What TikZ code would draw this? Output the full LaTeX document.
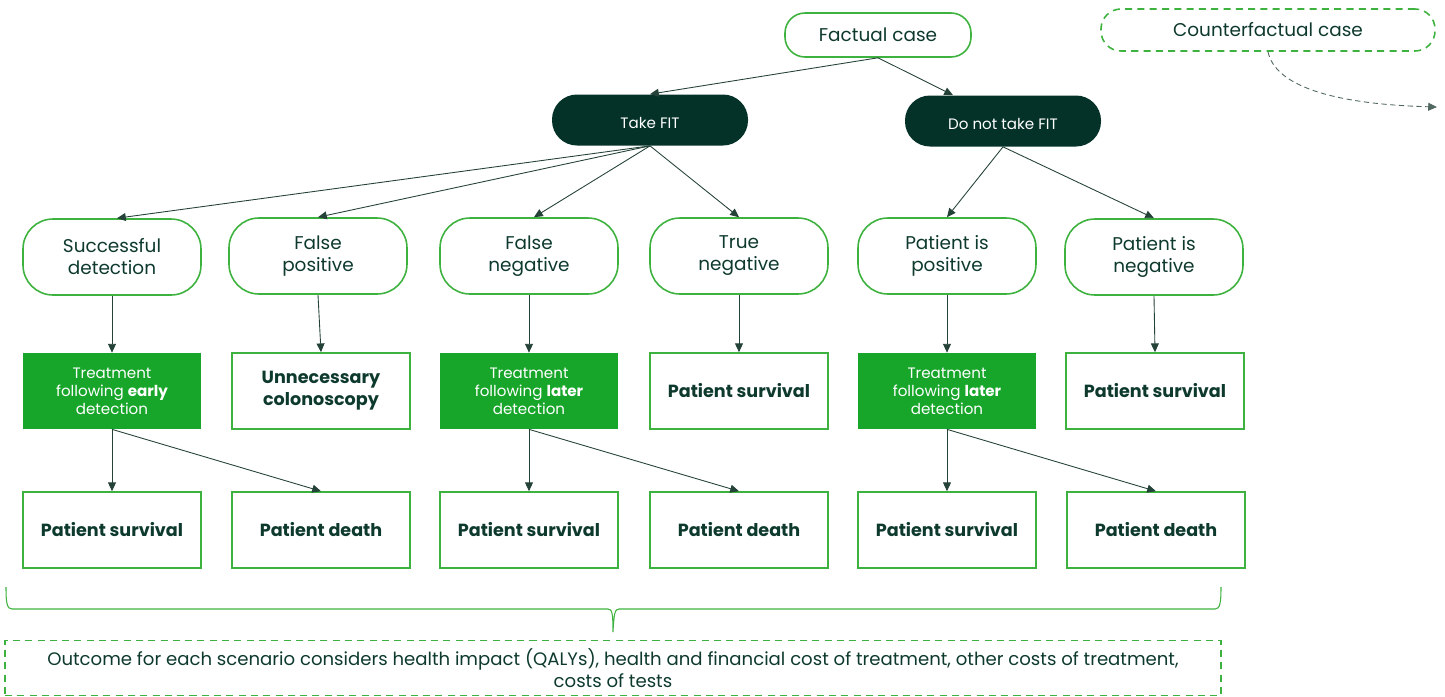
\documentclass[tikz,border=0pt]{standalone}
\usepackage{fontspec}
\setmainfont{Poppins}
\usepackage{xcolor}
\definecolor{leaf-line}{RGB}{62,178,62}
\definecolor{leaf-fill}{RGB}{24,166,42}
\definecolor{pine-dark}{RGB}{5,50,40}
\definecolor{pine-text}{RGB}{14,58,46}
\definecolor{arrow-ink}{RGB}{36,66,56}
\usetikzlibrary{arrows.meta,positioning}

\begin{document}
\begin{tikzpicture}[
    x=0.02cm, y=-0.02cm,
    every node/.style={inner sep=0pt, text=pine-text, align=center},
    base/.style={font=\fontsize{10.5}{12.5}\selectfont},
    small/.style={font=\fontsize{8.6}{10.2}\selectfont},
    casebox/.style={base, draw=leaf-line, line width=0.9pt, fill=white,
        minimum width=186*0.02cm, minimum height=44*0.02cm, rounded corners=20*0.02cm},
    choice/.style={small, fill=pine-dark, text=white, text height=9.4pt, text depth=0pt,
        minimum width=196*0.02cm, minimum height=51*0.02cm, rounded corners=25*0.02cm},
    branch/.style={base, draw=leaf-line, line width=0.9pt, fill=white,
        minimum width=178*0.02cm, minimum height=76*0.02cm, rounded corners=30*0.02cm},
    treat/.style={small, fill=leaf-fill, text=white,
        minimum width=178*0.02cm, minimum height=76*0.02cm},
    endbox/.style={font=\fontsize{10}{12.5}\selectfont\bfseries, draw=leaf-line, line width=0.9pt,
        fill=white, minimum width=178*0.02cm, minimum height=76*0.02cm},
    link/.style={draw=arrow-ink, line width=0.5pt, -{Triangle[length=5pt,width=4.5pt]}}
]
\useasboundingbox (0,0) rectangle (1445,697);

% Top level
\node[casebox] (fact) at (878,35) {Factual case};
\node[casebox, dashed, dash pattern=on 4pt off 3pt, minimum width=334*0.02cm, minimum height=42*0.02cm]
    (counter) at (1268,30) {Counterfactual case};
\coordinate (counterend) at (1437,107);

% Test choice
\node[choice] (fit) at (650,120) {Take FIT};
\node[choice] (nofit) at (1003,121) {Do not take FIT};

% Test results
\node[branch] (success) at (112,257) {Successful\\detection};
\node[branch] (falsepos) at (318,256) {False\\positive};
\node[branch] (falseneg) at (529,256) {False\\negative};
\node[branch] (trueneg) at (739,256) {True\\negative};
\node[branch] (ispos) at (947,256) {Patient is\\positive};
\node[branch] (isneg) at (1154,257) {Patient is\\negative};

% Follow-up
\node[treat] (early) at (112,391) {Treatment\\following \textbf{early}\\detection};
\node[endbox] (colono) at (321,391) {Unnecessary\\colonoscopy};
\node[treat] (later) at (529,391) {Treatment\\following \textbf{later}\\detection};
\node[endbox] (survA) at (739,391) {Patient survival};
\node[treat] (laterB) at (947,391) {Treatment\\following \textbf{later}\\detection};
\node[endbox] (survB) at (1155,391) {Patient survival};

% Final states
\node[endbox] (earlysurv) at (112,530) {Patient survival};
\node[endbox] (earlydeath) at (321,530) {Patient death};
\node[endbox] (latersurv) at (529,530) {Patient survival};
\node[endbox] (laterdeath) at (739,530) {Patient death};
\node[endbox] (bsurv) at (947,530) {Patient survival};
\node[endbox] (bdeath) at (1156,530) {Patient death};

% Outcome note
\node[draw=leaf-line, line width=0.9pt, dashed, dash pattern=on 4pt off 3pt,
    font=\fontsize{10.3}{12.5}\selectfont,
    minimum width=1216*0.02cm, minimum height=55*0.02cm] (outcome) at (613,668)
    {Outcome for each scenario considers health impact (QALYs), health and financial cost of treatment, other costs of treatment,\\costs of tests};

% Connectors
\draw[link] (fact.south) -- (fit.north);
\draw[link] (fact.south) -- ([xshift=-1cm]nofit.north);
\draw[link, draw=arrow-ink!80, dashed, dash pattern=on 3pt off 2pt] (counter.south)
    .. controls (1275,85) and (1330,104) .. (counterend);

\draw[link] (fit.south) -- ([xshift=0.1cm]success.north);
\draw[link] (fit.south) -- (falsepos.north);
\draw[link] (fit.south) -- ([xshift=0.1cm]falseneg.north);
\draw[link] (fit.south) -- (trueneg.north);
\draw[link] (nofit.south) -- (ispos.north);
\draw[link] (nofit.south) -- (isneg.north);

\draw[link] (success.south) -- (early.north);
\draw[link] (falsepos.south) -- (colono.north);
\draw[link] (falseneg.south) -- (later.north);
\draw[link] (trueneg.south) -- (survA.north);
\draw[link] (ispos.south) -- (laterB.north);
\draw[link] (isneg.south) -- (survB.north);

\draw[link] (early.south) -- (earlysurv.north);
\draw[link] (early.south) -- (earlydeath.north);
\draw[link] (later.south) -- (latersurv.north);
\draw[link] (later.south) -- (laterdeath.north);
\draw[link] (laterB.south) -- (bsurv.north);
\draw[link] (laterB.south) -- (bdeath.north);

% Brace over the outcome note
\draw[leaf-line, line width=0.6pt]
    (6,587) .. controls (6,603) and (7,609) .. (12,609) -- (608,609)
    .. controls (612,609) and (613,613) .. (613,632)
    .. controls (614,613) and (615,609) .. (619,609) -- (1215,609)
    .. controls (1220,609) and (1221,603) .. (1221,587);

\end{tikzpicture}
\end{document}
